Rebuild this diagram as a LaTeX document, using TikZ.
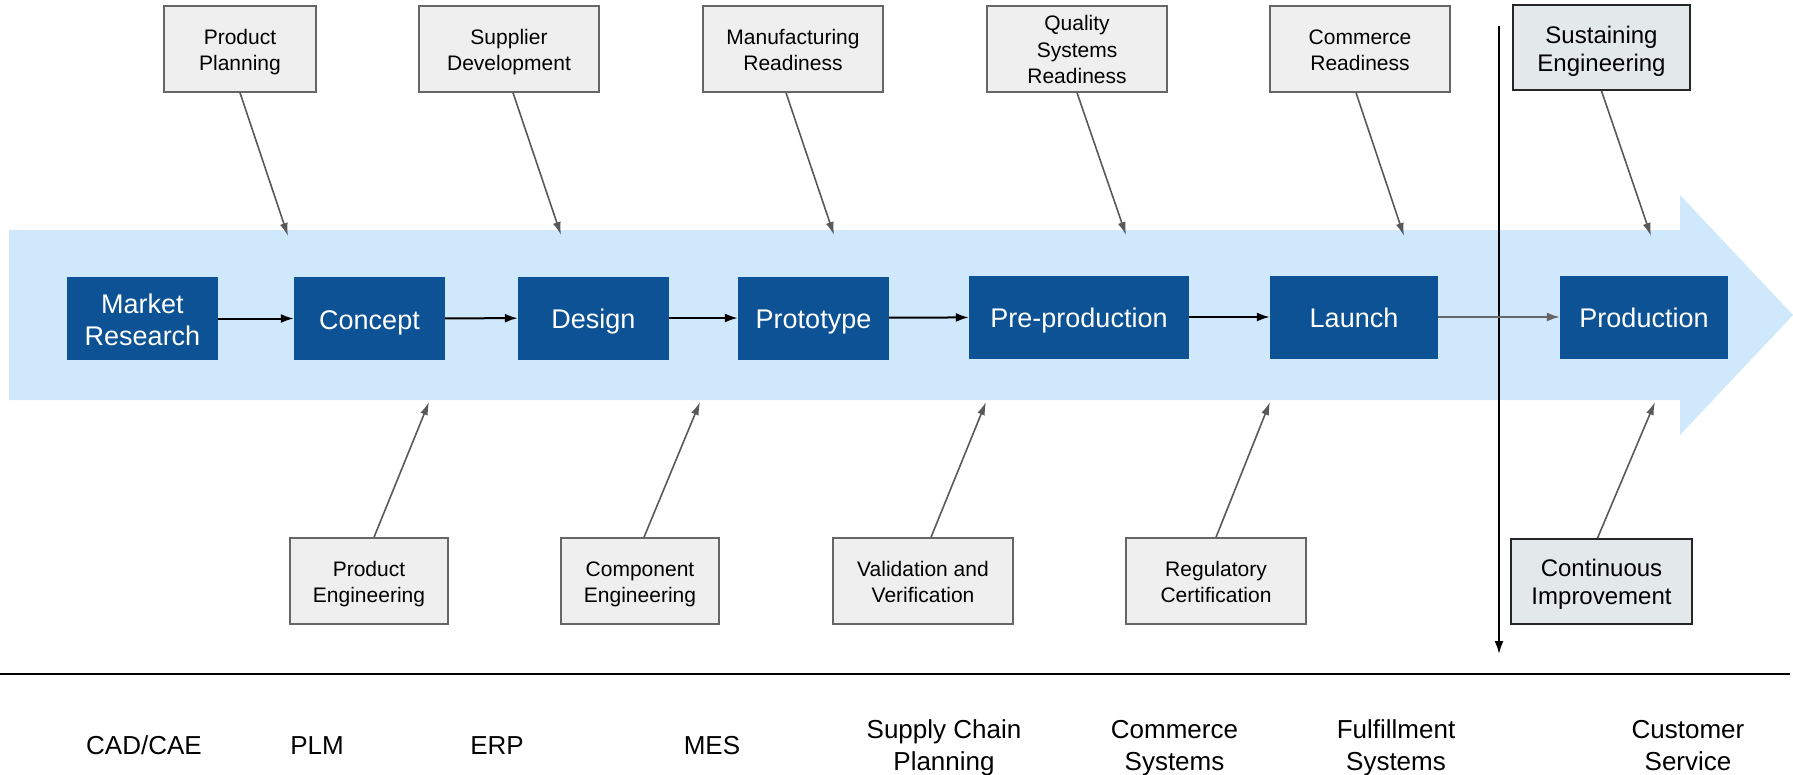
\documentclass[tikz,border=0pt]{standalone}
\usepackage{fontspec}
\setmainfont{Liberation Sans}
\usetikzlibrary{arrows.meta, positioning, calc}
\definecolor{bandblue}{RGB}{207, 232, 252}
\definecolor{stageblue}{RGB}{13, 82, 148}
\definecolor{boxgray}{RGB}{239, 239, 239}
\definecolor{sustgray}{RGB}{227, 232, 235}
\definecolor{linegray}{RGB}{89, 89, 89}
\definecolor{edgegray}{RGB}{102, 102, 102}
% fixed line extents, so every box centres its lines alike
\newcommand{\tstrut}{\rule{0pt}{1.05em}}
\newcommand{\bstrut}{\rule[-0.25em]{0pt}{0.25em}}

\begin{document}
\begin{tikzpicture}[x=1pt, y=-1pt,
  stage/.style={fill=stageblue, text=white, minimum height=83pt, inner sep=0pt, align=center, font=\fontsize{27}{32}\selectfont},
  feedbox/.style={draw=edgegray, line width=1.5pt, fill=boxgray, minimum height=86pt, inner sep=0pt, align=center, font=\fontsize{21}{26.5}\selectfont},
  sustbox/.style={draw=black!85, line width=1.5pt, fill=sustgray, minimum height=85pt, inner sep=0pt, align=center, font=\fontsize{24}{28}\selectfont},
  syslabel/.style={align=center, inner sep=0pt, font=\fontsize{26}{31.5}\selectfont},
  flow/.style={line width=2pt, -{Latex[length=13pt, width=9pt]}},
  feed/.style={line width=1.6pt, linegray, -{Latex[length=13pt, width=8pt]}}
]
  \useasboundingbox (0,0) rectangle (1793,774);

  % big arrow
  \fill[bandblue] (9,230) -- (1680,230) -- (1680,195) -- (1793,315) -- (1680,435) -- (1680,400) -- (9,400) -- cycle;

  % cut line and systems line
  \coordinate (cut-top) at (1499,26);
  \coordinate (cut-bot) at (1499,654);
  \draw[line width=2pt, -{Latex[length=13pt, width=9pt]}] (cut-top) -- (cut-bot);
  \coordinate (sys-left) at (0,674);
  \coordinate (sys-right) at (1790,674);
  \draw[line width=2pt] (sys-left) -- (sys-right);

  % stages
  \node[stage, minimum width=151pt] (mr) at (142.5,318.5) {\tstrut Market\\Research\bstrut};
  \node[stage, minimum width=151pt] (concept) at (369.5,318.5) {\tstrut Concept\bstrut};
  \node[stage, minimum width=151pt] (design) at (593.5,318) {\tstrut Design\bstrut};
  \node[stage, minimum width=151pt] (proto) at (813.5,318) {\tstrut Prototype\bstrut};
  \node[stage, minimum width=220pt] (preprod) at (1079,317) {\tstrut Pre-production\bstrut};
  \node[stage, minimum width=168pt] (launch) at (1354,317) {\tstrut Launch\bstrut};
  \node[stage, minimum width=168pt] (prod) at (1644,317) {\tstrut Production\bstrut};

  \draw[flow] (mr) -- (concept);
  \draw[flow] (concept) -- (design);
  \draw[flow] (design) -- (proto);
  \draw[flow] (proto) -- (preprod);
  \draw[flow] (preprod) -- (launch);
  \draw[flow, edgegray] (launch) -- (prod);

  % inputs from above
  \node[feedbox, minimum width=152pt] (plan) at (240,49) {\tstrut Product\\Planning\bstrut};
  \node[feedbox, minimum width=180pt] (supdev) at (509,49) {\tstrut Supplier\\Development\bstrut};
  \node[feedbox, minimum width=180pt] (mfgready) at (793,49) {\tstrut Manufacturing\\Readiness\bstrut};
  \node[feedbox, minimum width=180pt] (qsready) at (1077,49) {\tstrut Quality\\Systems\\Readiness\bstrut};
  \node[feedbox, minimum width=180pt] (comready) at (1360,49) {\tstrut Commerce\\Readiness\bstrut};
  \node[sustbox, minimum width=177pt] (susteng) at (1601.5,47.7) {\tstrut Sustaining\\Engineering\bstrut};

  \coordinate (plan-tip) at (288,236);
  \coordinate (supdev-tip) at (561,235);
  \coordinate (mfgready-tip) at (834,235);
  \coordinate (qsready-tip) at (1126,235);
  \coordinate (comready-tip) at (1404,236);
  \coordinate (susteng-tip) at (1651,236);
  \draw[feed] (plan.south) -- (plan-tip);
  \draw[feed] ([xshift=4pt]supdev.south) -- (supdev-tip);
  \draw[feed] ([xshift=-7pt]mfgready.south) -- (mfgready-tip);
  \draw[feed] (qsready.south) -- (qsready-tip);
  \draw[feed] ([xshift=-4pt]comready.south) -- (comready-tip);
  \draw[feed] (susteng.south) -- (susteng-tip);

  % inputs from below
  \node[feedbox, minimum width=158pt] (prodeng) at (369,581) {\tstrut Product\\Engineering\bstrut};
  \node[feedbox, minimum width=158pt] (compeng) at (640,581) {\tstrut Component\\Engineering\bstrut};
  \node[feedbox, minimum width=180pt] (valver) at (923,581) {\tstrut Validation and\\Verification\bstrut};
  \node[feedbox, minimum width=180pt] (regcert) at (1216,581) {\tstrut Regulatory\\Certification\bstrut};
  \node[sustbox, minimum width=181pt] (contimp) at (1601.5,581.3) {\tstrut Continuous\\Improvement\bstrut};

  \coordinate (prodeng-tip) at (429,402);
  \coordinate (compeng-tip) at (700,402);
  \coordinate (valver-tip) at (986,402);
  \coordinate (regcert-tip) at (1270,402);
  \coordinate (contimp-tip) at (1655,402);
  \draw[feed] ([xshift=5pt]prodeng.north) -- (prodeng-tip);
  \draw[feed] ([xshift=4pt]compeng.north) -- (compeng-tip);
  \draw[feed] ([xshift=8pt]valver.north) -- (valver-tip);
  \draw[feed] (regcert.north) -- (regcert-tip);
  \draw[feed] ([xshift=-4pt]contimp.north) -- (contimp-tip);

  % systems
  \node[syslabel] (cad) at (144,744) {\tstrut CAD/CAE\bstrut};
  \node[syslabel] (plm) at (317,744) {\tstrut PLM\bstrut};
  \node[syslabel] (erp) at (497,744) {\tstrut ERP\bstrut};
  \node[syslabel] (mes) at (712,744) {\tstrut MES\bstrut};
  \node[syslabel] (scp) at (944,744) {\tstrut Supply Chain\\Planning\bstrut};
  \node[syslabel] (comsys) at (1174.5,744) {\tstrut Commerce\\Systems\bstrut};
  \node[syslabel] (fulsys) at (1396,744) {\tstrut Fulfillment\\Systems\bstrut};
  \node[syslabel] (custsvc) at (1688,744) {\tstrut Customer\\Service\bstrut};
\end{tikzpicture}
\end{document}
